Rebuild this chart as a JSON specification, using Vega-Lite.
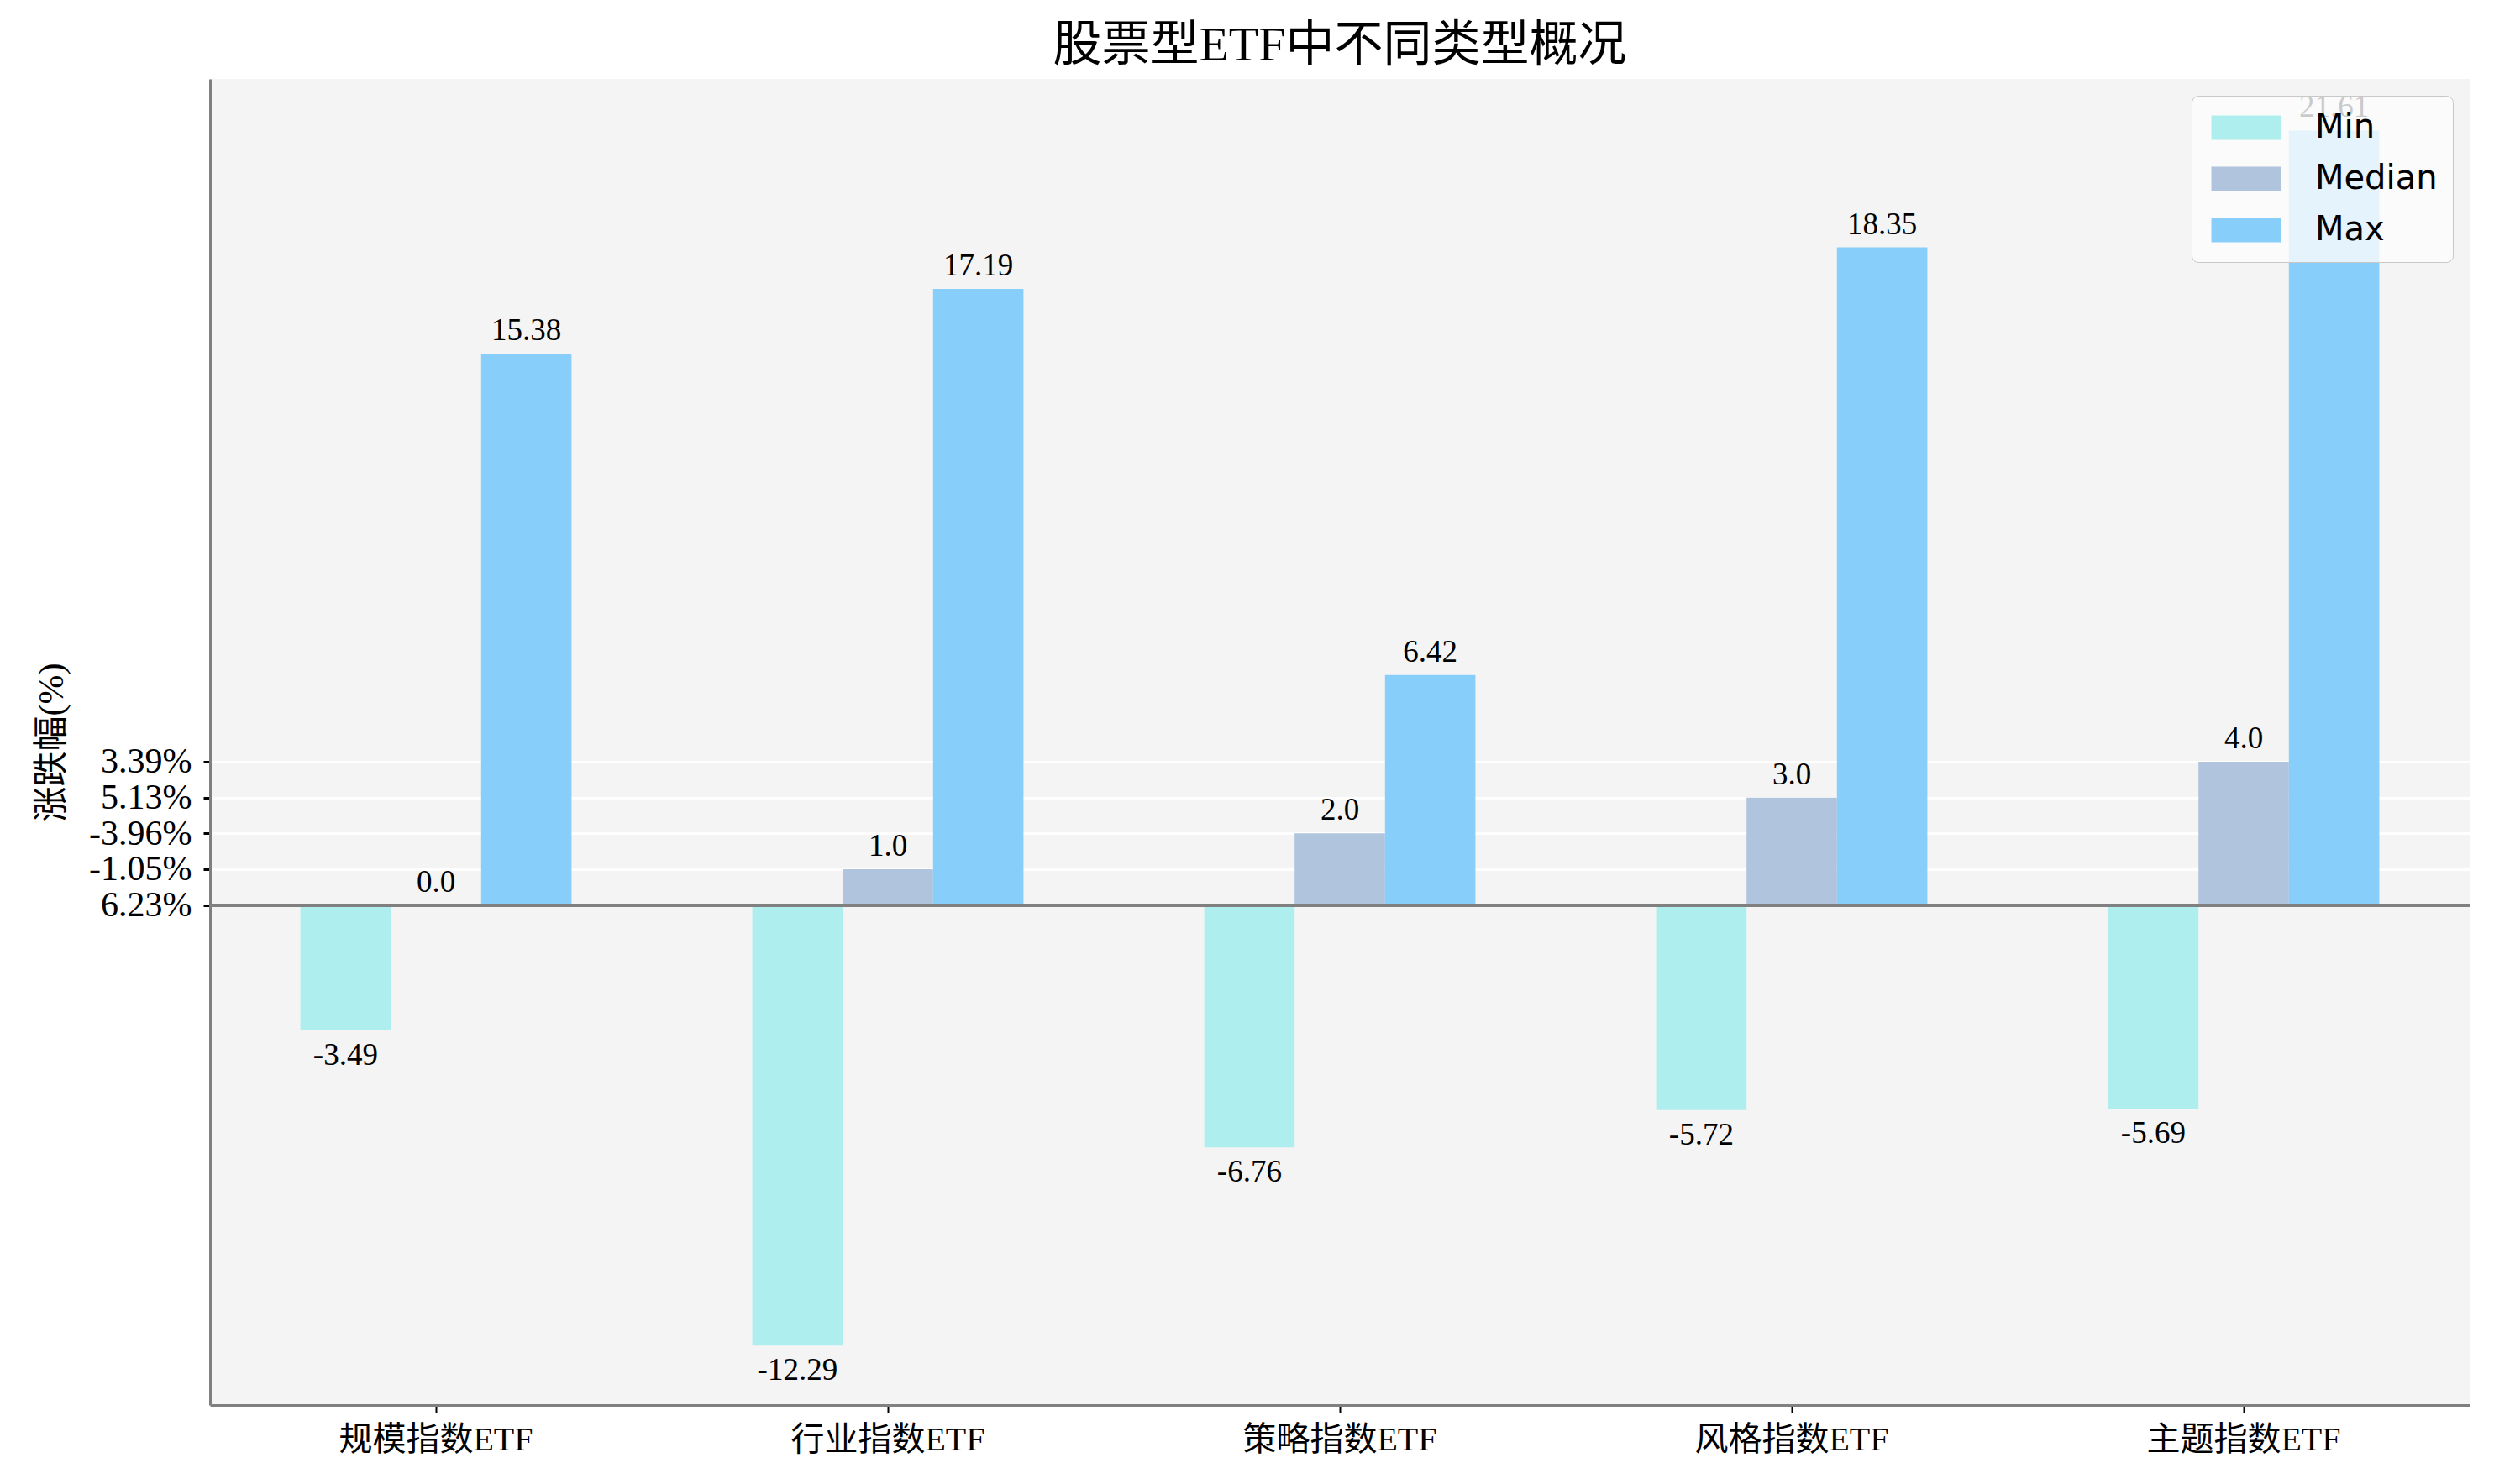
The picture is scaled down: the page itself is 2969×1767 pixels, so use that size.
{
  "$schema": "https://vega.github.io/schema/vega-lite/v6.json",
  "autosize": {"type": "none"},
  "padding": {"left": 250, "top": 94, "right": 29, "bottom": 94},
  "width": 2690,
  "height": 1579,
  "background": "white",
  "title": {
    "text": "股票型ETF中不同类型概况",
    "font": "Liberation Serif, Noto Sans CJK SC",
    "fontSize": 58,
    "fontWeight": "normal",
    "color": "black",
    "anchor": "middle",
    "offset": 10
  },
  "config": {
    "view": {"fill": "#f4f4f4", "stroke": null},
    "font": "Liberation Serif, Noto Sans CJK SC"
  },
  "data": {
    "values": [
      {"category": "规模指数ETF", "type": "Min", "value": -3.49, "label": "-3.49"},
      {"category": "规模指数ETF", "type": "Median", "value": 0.0, "label": "0.0"},
      {"category": "规模指数ETF", "type": "Max", "value": 15.38, "label": "15.38"},
      {"category": "行业指数ETF", "type": "Min", "value": -12.29, "label": "-12.29"},
      {"category": "行业指数ETF", "type": "Median", "value": 1.0, "label": "1.0"},
      {"category": "行业指数ETF", "type": "Max", "value": 17.19, "label": "17.19"},
      {"category": "策略指数ETF", "type": "Min", "value": -6.76, "label": "-6.76"},
      {"category": "策略指数ETF", "type": "Median", "value": 2.0, "label": "2.0"},
      {"category": "策略指数ETF", "type": "Max", "value": 6.42, "label": "6.42"},
      {"category": "风格指数ETF", "type": "Min", "value": -5.72, "label": "-5.72"},
      {"category": "风格指数ETF", "type": "Median", "value": 3.0, "label": "3.0"},
      {"category": "风格指数ETF", "type": "Max", "value": 18.35, "label": "18.35"},
      {"category": "主题指数ETF", "type": "Min", "value": -5.69, "label": "-5.69"},
      {"category": "主题指数ETF", "type": "Median", "value": 4.0, "label": "4.0"},
      {"category": "主题指数ETF", "type": "Max", "value": 21.61, "label": "21.61"}
    ]
  },
  "layer": [
    {
      "mark": {"type": "bar"},
      "encoding": {
        "x": {
          "field": "category",
          "type": "nominal",
          "sort": null,
          "scale": {"paddingInner": 0, "paddingOuter": 0},
          "axis": {
            "title": null,
            "labelAngle": 0,
            "labelLimit": 0,
            "labelFont": "Liberation Serif, Noto Sans CJK SC",
            "labelFontSize": 40,
            "labelColor": "black",
            "labelPadding": 12,
            "tickSize": 9,
            "tickWidth": 2,
            "tickColor": "black",
            "domainColor": "#808080",
            "domainWidth": 3,
            "grid": false
          }
        },
        "xOffset": {
          "field": "type",
          "type": "nominal",
          "sort": ["Min", "Median", "Max"],
          "scale": {"paddingInner": 0, "paddingOuter": 1}
        },
        "y": {
          "field": "value",
          "type": "quantitative",
          "scale": {"domain": [-13.95, 23.05], "nice": false, "zero": false},
          "axis": {
            "title": "涨跌幅(%)",
            "titleFont": "Liberation Serif, Noto Sans CJK SC",
            "titleFontSize": 42,
            "titleFontWeight": "normal",
            "titleColor": "black",
            "titlePadding": 22,
            "values": [0, 1, 2, 3, 4],
            "labelExpr": "datum.value == 0 ? '6.23%' : datum.value == 1 ? '-1.05%' : datum.value == 2 ? '-3.96%' : datum.value == 3 ? '5.13%' : '3.39%'",
            "labelFont": "Liberation Serif",
            "labelFontSize": 42,
            "labelColor": "black",
            "labelPadding": 14,
            "labelOverlap": false,
            "labelBaseline": "middle",
            "tickSize": 8,
            "tickWidth": 3,
            "tickColor": "black",
            "domainColor": "#808080",
            "domainWidth": 3,
            "grid": true,
            "gridColor": "white",
            "gridWidth": 3
          }
        },
        "color": {
          "field": "type",
          "type": "nominal",
          "sort": ["Min", "Median", "Max"],
          "scale": {"domain": ["Min", "Median", "Max"], "range": ["#AFEEEE", "#B0C4DE", "#87CEFA"]},
          "legend": {
            "title": null,
            "orient": "top-right",
            "offset": 20,
            "padding": 18,
            "fillColor": "rgba(253,253,253,0.8)",
            "strokeColor": "#c8c8c8",
            "cornerRadius": 8,
            "labelFont": "DejaVu Sans",
            "labelFontSize": 40,
            "labelColor": "black",
            "labelOffset": 62,
            "rowPadding": 21,
            "symbolOffset": 27,
            "symbolType": "M-2.86,-1L2.86,-1L2.86,1L-2.86,1Z",
            "symbolSize": 841,
            "symbolStrokeWidth": 0,
            "symbolOpacity": 1
          }
        }
      }
    },
    {
      "mark": {"type": "rule", "color": "#808080", "strokeWidth": 3},
      "encoding": {"y": {"datum": 0, "type": "quantitative"}}
    },
    {
      "transform": [{"filter": "datum.value >= 0"}],
      "mark": {"type": "text", "baseline": "alphabetic", "dy": -16, "fontSize": 37, "font": "Liberation Serif", "color": "black"},
      "encoding": {
        "x": {"field": "category", "type": "nominal", "sort": null},
        "xOffset": {"field": "type", "type": "nominal", "sort": ["Min", "Median", "Max"]},
        "y": {"field": "value", "type": "quantitative"},
        "text": {"field": "label"}
      }
    },
    {
      "transform": [{"filter": "datum.value < 0"}],
      "mark": {"type": "text", "baseline": "top", "dy": 12, "fontSize": 37, "font": "Liberation Serif", "color": "black"},
      "encoding": {
        "x": {"field": "category", "type": "nominal", "sort": null},
        "xOffset": {"field": "type", "type": "nominal", "sort": ["Min", "Median", "Max"]},
        "y": {"field": "value", "type": "quantitative"},
        "text": {"field": "label"}
      }
    }
  ]
}
